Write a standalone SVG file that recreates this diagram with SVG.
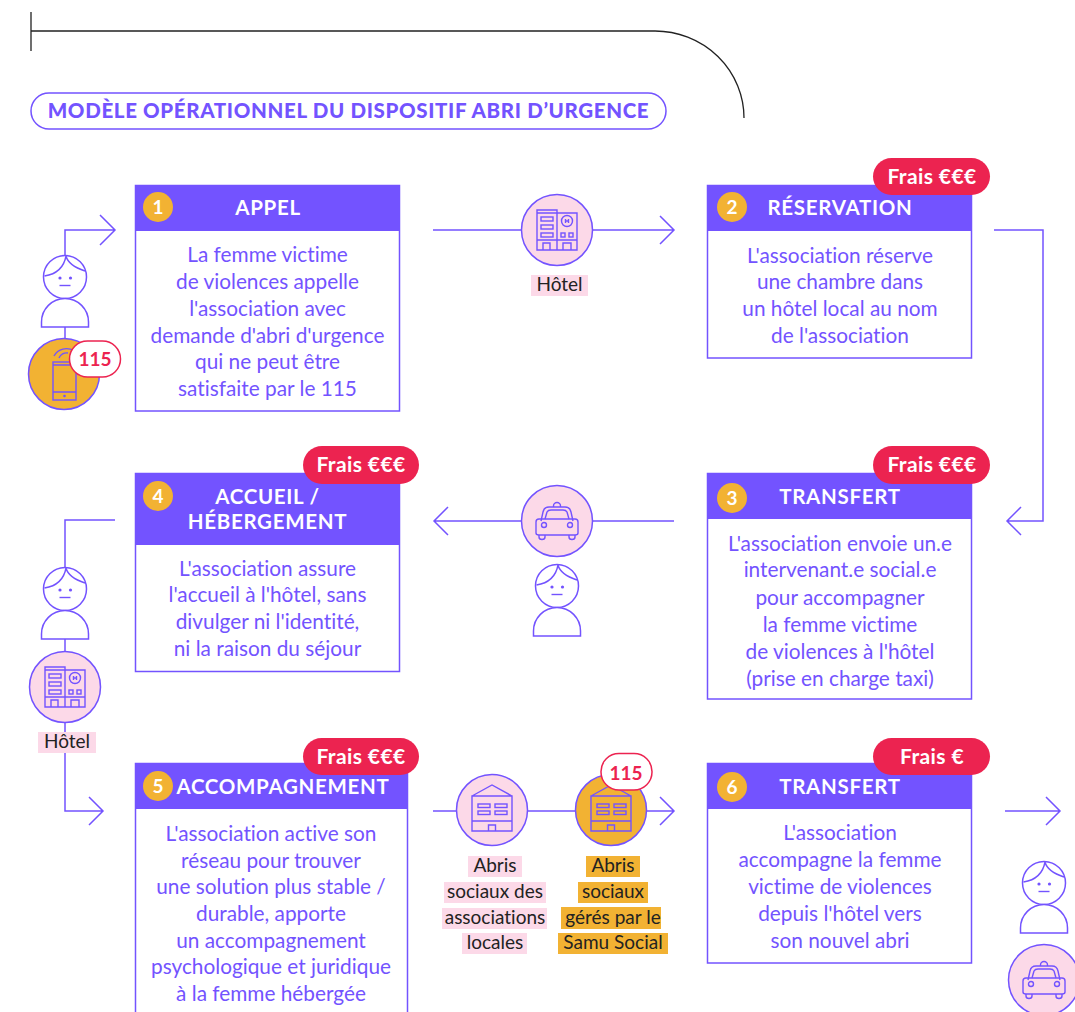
<svg xmlns="http://www.w3.org/2000/svg" width="1075" height="1012" viewBox="0 0 1075 1012">
<style>
text{font-variant-ligatures:none}
.l{fill:none;stroke:#7353FF;stroke-width:1.5;stroke-linejoin:miter}
.i{fill:none;stroke:#7353FF;stroke-width:1.4}
.box{fill:#fff;stroke:#7353FF;stroke-width:1.5}
.hd{fill:#7353FF}
.t{font-family:"Lato",sans-serif;font-size:20.8px;fill:#7353FF;text-anchor:middle;font-weight:400}
.h{font-family:"Lato",sans-serif;font-size:20.5px;font-weight:700;fill:#fff;text-anchor:middle;letter-spacing:.7px}
.n{font-family:"Lato",sans-serif;font-size:19px;font-weight:700;fill:#fff;text-anchor:middle}
.fb{fill:#EC2350}
.ft{font-family:"Lato",sans-serif;font-size:21px;font-weight:700;fill:#fff;text-anchor:middle;letter-spacing:.4px}
.b115{fill:#fff;stroke:#EC2350;stroke-width:1.5}
.t115{font-family:"Lato",sans-serif;font-size:19px;font-weight:700;fill:#EC2350;text-anchor:middle}
.c{font-family:"Lato",sans-serif;font-size:19px;font-weight:400;fill:#222;text-anchor:middle}
.pk{fill:#FCD9E8}.or{fill:#F2B233}
.cp{fill:#FCD9E8;stroke:#7353FF;stroke-width:1.5}
.co{fill:#F2B233;stroke:#7353FF;stroke-width:1.5}
</style>
<defs>
<g id="person"><circle r="21.5" fill="#fff" stroke="#7353FF" stroke-width="1.5"/><path class="i" d="M-20.5 -1C-8 -3 -1 -10 1 -21C3 -13 11 -9 20 -6"/><circle cx="-5" cy="1" r="1.6" fill="#7353FF"/><circle cx="5.500" cy="1" r="1.6" fill="#7353FF"/><path class="i" d="M-5.500 8.500H5.500"/><path d="M-23.500 50V45A23.500 23.500 0 0 1 23.500 45V50Z" fill="#fff" stroke="#7353FF" stroke-width="1.5"/></g>
<g id="hotel" class="i"><path d="M-20 -20H0V20H-20ZM-20 -17H0M0 -17H20V20H0M-20 10H20M-14 20V13H-7V20M6 20V13H14V20"/><rect x="-16" y="-13" width="12" height="4"/><rect x="-16" y="-5" width="12" height="4"/><rect x="-16" y="3" width="12" height="4"/><circle cx="10" cy="-9" r="5.500"/><path d="M8.500 -11V-7M11.500 -11V-7M8.500 -9H11.500"/><rect x="4" y="3" width="4" height="4"/><rect x="12" y="3" width="4" height="4"/></g>
<g id="taxi" class="i"><path d="M-16 0L-14 -9Q-13 -14 -8 -14H8Q13 -14 14 -9L16 0"/><path d="M-12 -2L-10 -9Q-9 -11 -6 -11H6Q9 -11 10 -9L12 -2"/><path d="M-3.500 -14V-15A3.500 3.500 0 0 1 3.500 -15V-14"/><path d="M-21 1Q-21 -2 -18 -2H18Q21 -2 21 1V12Q21 14 18 14H-18Q-21 14 -21 12Z"/><circle cx="-13" cy="4" r="2.500"/><circle cx="13" cy="4" r="2.500"/><path d="M-18 14V16Q-18 18.500 -15 18.500Q-12 18.500 -12 16V14M12 14V16Q12 18.500 15 18.500Q18 18.500 18 16V14"/></g>
<g id="bld" class="i"><path d="M-20 -14H20V21H-20ZM-20 -14L0 -25L20 -14M-20 11H20M-3.500 21V15H3.500V21"/><rect x="-14" y="-6" width="12" height="3.500"/><rect x="3" y="-6" width="12" height="3.500"/><rect x="-14" y="1" width="12" height="3.500"/><rect x="3" y="1" width="12" height="3.500"/></g>
</defs>

<g id="frame"><path d="M31 12V51M31 31H655A89 87 0 0 1 744 118" fill="none" stroke="#222" stroke-width="1.300"/></g>
<g id="title"><rect x="31" y="93" width="635" height="36" rx="18" fill="#fff" stroke="#7353FF" stroke-width="1.5"/><text x="348.500" y="118" font-family="Lato,sans-serif" font-size="20.500" font-weight="900" fill="#7353FF" text-anchor="middle" letter-spacing=".65">MODÈLE OPÉRATIONNEL DU DISPOSITIF ABRI D’URGENCE</text></g>

<g id="connectors">
<path class="l" d="M65 258V230H115M100 215L115 230L100 245"/>
<path class="l" d="M65 327V342"/>
<path class="l" d="M433 230H674M660 216L674 230L660 244"/>
<path class="l" d="M994 230H1043V521H1007M1021 507L1007 521L1021 535"/>
<path class="l" d="M674 521H434M448 507L434 521L448 535"/>
<path class="l" d="M115 520H65V569"/>
<path class="l" d="M65 639V652"/>
<path class="l" d="M65 722V811H103M89 797L103 811L89 825"/>
<path class="l" d="M433 811H674M660 797L674 811L660 825"/>
<path class="l" d="M1005 811H1060M1046 797L1060 811L1046 825"/>
</g>

<g id="node-caller"><use href="#person" x="65" y="277"/><circle class="co" cx="64" cy="374" r="35.500"/><g class="i"><rect x="53" y="362" width="23" height="38"/><path d="M53 365H76M53 392H76"/><path d="M54 356A14 14 0 0 1 74 351M59 358A8 8 0 0 1 68 353"/></g><circle cx="64.500" cy="396" r="1.300" fill="#7353FF"/><rect class="b115" x="69.500" y="341" width="51" height="36" rx="18"/><text class="t115" x="95" y="366">115</text></g>

<g id="node-1"><rect class="box" x="135.500" y="185.500" width="264" height="225.500"/><rect class="hd" x="135" y="185" width="265" height="46"/><circle class="or" cx="158" cy="207" r="15"/><text class="n" x="158" y="214">1</text><text class="h" x="268" y="215">APPEL</text>
<text class="t"><tspan x="267.500" y="262">La femme victime</tspan><tspan x="267.500" y="289">de violences appelle</tspan><tspan x="267.500" y="316">l'association avec</tspan><tspan x="267.500" y="343">demande d'abri d'urgence</tspan><tspan x="267.500" y="369">qui ne peut être</tspan><tspan x="267.500" y="396">satisfaite par le 115</tspan></text></g>

<g id="node-hotel-1"><circle class="cp" cx="557" cy="230" r="35.500"/><use href="#hotel" x="557" y="230"/><rect class="pk" x="531" y="275" width="57" height="21"/><text class="c" x="559.500" y="291">Hôtel</text></g>

<g id="node-2"><rect class="box" x="707.500" y="185.500" width="264" height="172.500"/><rect class="hd" x="707" y="185" width="265" height="46"/><circle class="or" cx="732" cy="207" r="15"/><text class="n" x="732" y="214">2</text><text class="h" x="840" y="215">RÉSERVATION</text>
<rect class="fb" x="873" y="158" width="117" height="37" rx="18.500"/><text class="ft" x="932" y="184">Frais €€€</text>
<text class="t"><tspan x="840" y="263">L'association réserve</tspan><tspan x="840" y="289">une chambre dans</tspan><tspan x="840" y="316">un hôtel local au nom</tspan><tspan x="840" y="343">de l'association</tspan></text></g>

<g id="node-3"><rect class="box" x="707.500" y="473.500" width="264" height="225.500"/><rect class="hd" x="707" y="473" width="265" height="46"/><circle class="or" cx="732" cy="498" r="15"/><text class="n" x="732" y="505">3</text><text class="h" x="840" y="504">TRANSFERT</text>
<rect class="fb" x="873" y="446" width="117" height="38" rx="19"/><text class="ft" x="932" y="472">Frais €€€</text>
<text class="t"><tspan x="840" y="551">L'association envoie un.e</tspan><tspan x="840" y="577">intervenant.e social.e</tspan><tspan x="840" y="605">pour accompagner</tspan><tspan x="840" y="632">la femme victime</tspan><tspan x="840" y="659">de violences à l'hôtel</tspan><tspan x="840" y="686">(prise en charge taxi)</tspan></text></g>

<g id="node-taxi-1"><circle class="cp" cx="557" cy="521" r="35.500"/><use href="#taxi" x="557" y="521"/><use href="#person" x="557" y="586"/></g>

<g id="node-4"><rect class="box" x="135.500" y="473.500" width="264" height="198"/><rect class="hd" x="135" y="473" width="265" height="72"/><circle class="or" cx="158" cy="496" r="15"/><text class="n" x="158" y="503">4</text><text class="h"><tspan x="267.500" y="504">ACCUEIL /</tspan><tspan x="267.500" y="529">HÉBERGEMENT</tspan></text>
<rect class="fb" x="303" y="446" width="116" height="38" rx="19"/><text class="ft" x="361" y="472">Frais €€€</text>
<text class="t"><tspan x="267.500" y="576">L'association assure</tspan><tspan x="267.500" y="602">l'accueil à l'hôtel, sans</tspan><tspan x="267.500" y="629">divulger ni l'identité,</tspan><tspan x="267.500" y="656">ni la raison du séjour</tspan></text></g>

<g id="node-hotel-2"><use href="#person" x="65" y="589"/><circle class="cp" cx="65" cy="687" r="35.500"/><use href="#hotel" x="65" y="687"/><rect class="pk" x="38" y="732" width="58" height="21"/><text class="c" x="67" y="748">Hôtel</text></g>

<g id="node-5"><rect class="box" x="135.500" y="763.500" width="272" height="260"/><rect class="hd" x="135" y="763" width="273" height="46"/><circle class="or" cx="158" cy="786" r="15"/><text class="n" x="158" y="793">5</text><text class="h" x="283" y="794">ACCOMPAGNEMENT</text>
<rect class="fb" x="303" y="738" width="116" height="37" rx="18.500"/><text class="ft" x="361" y="764">Frais €€€</text>
<text class="t"><tspan x="271" y="841">L'association active son</tspan><tspan x="271" y="868">réseau pour trouver</tspan><tspan x="271" y="894">une solution plus stable /</tspan><tspan x="271" y="921">durable, apporte</tspan><tspan x="271" y="948">un accompagnement</tspan><tspan x="271" y="974">psychologique et juridique</tspan><tspan x="271" y="1001">à la femme hébergée</tspan></text></g>

<g id="node-shelter-local"><circle class="cp" cx="492" cy="810" r="35.500"/><use href="#bld" x="492" y="810"/>
<rect class="pk" x="468" y="856" width="54" height="21"/><rect class="pk" x="444" y="882" width="102" height="21"/><rect class="pk" x="442" y="908" width="105" height="21"/><rect class="pk" x="462" y="933" width="65" height="21"/>
<text class="c"><tspan x="495" y="872">Abris</tspan><tspan x="495" y="898">sociaux des</tspan><tspan x="495" y="924">associations</tspan><tspan x="495" y="949">locales</tspan></text></g>

<g id="node-shelter-samu"><circle class="co" cx="611" cy="810" r="35.500"/><use href="#bld" x="611" y="810"/><rect class="b115" x="601" y="753.500" width="51" height="36.500" rx="18"/><text class="t115" x="626" y="780">115</text>
<rect class="or" x="586" y="856" width="54" height="21"/><rect class="or" x="578" y="882" width="70" height="21"/><rect class="or" x="561" y="907" width="100" height="22"/><rect class="or" x="558" y="933" width="110" height="21"/>
<text class="c"><tspan x="613" y="872">Abris</tspan><tspan x="613" y="898">sociaux</tspan><tspan x="613" y="924">gérés par le</tspan><tspan x="613" y="949">Samu Social</tspan></text></g>

<g id="node-6"><rect class="box" x="707.500" y="763.500" width="264" height="199.500"/><rect class="hd" x="707" y="763" width="265" height="46"/><circle class="or" cx="732" cy="787" r="15"/><text class="n" x="732" y="794">6</text><text class="h" x="840" y="794">TRANSFERT</text>
<rect class="fb" x="873" y="738" width="117" height="37" rx="18.500"/><text class="ft" x="932" y="764">Frais €</text>
<text class="t"><tspan x="840" y="840">L'association</tspan><tspan x="840" y="867">accompagne la femme</tspan><tspan x="840" y="894">victime de violences</tspan><tspan x="840" y="921">depuis l'hôtel vers</tspan><tspan x="840" y="948">son nouvel abri</tspan></text></g>

<g id="node-end"><use href="#person" x="1044" y="883"/><circle class="cp" cx="1044" cy="980" r="35.500"/><use href="#taxi" x="1044" y="980"/></g>
</svg>
